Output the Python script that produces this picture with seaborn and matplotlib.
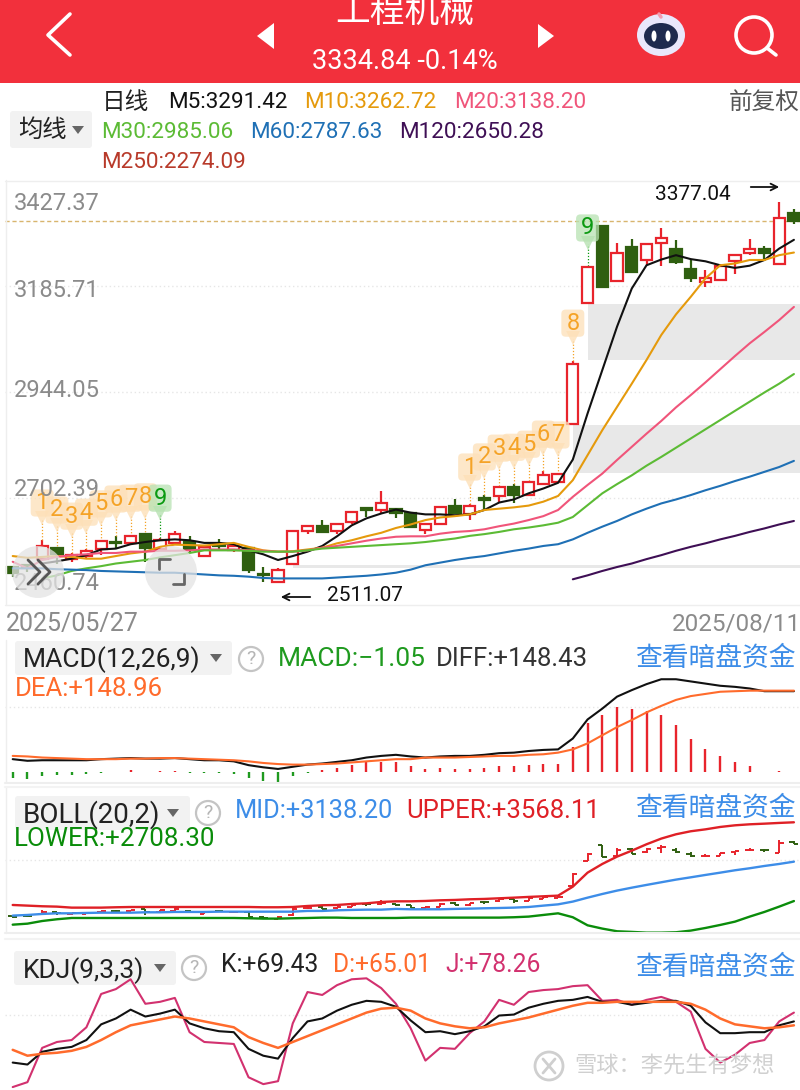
import numpy as np
import matplotlib
matplotlib.use("Agg")
import matplotlib.pyplot as plt
from matplotlib.patches import Circle, Ellipse, FancyBboxPatch, Polygon
import seaborn as sns

# daily candles, 2025/05/27 - 2025/08/11
opens = [2543, 2549, 2564, 2587, 2564, 2570, 2585, 2602, 2599, 2619, 2587, 2599, 2602, 2570, 2597, 2583, 2587, 2529,
         2511, 2552, 2627, 2638, 2627, 2648, 2678, 2675, 2677, 2667, 2629, 2644, 2682, 2667, 2701, 2706, 2726, 2710,
         2735, 2739, 2870, 3146, 3321, 3197, 3273, 3246, 3283, 3269, 3224, 3195, 3199, 3242, 3260, 3270, 3235, 3350]
closes = [2532, 2542, 2593, 2574, 2572, 2580, 2604, 2600, 2614, 2589, 2606, 2620, 2585, 2589, 2594, 2593, 2538, 2527,
          2538, 2625, 2637, 2624, 2643, 2669, 2675, 2690, 2669, 2637, 2643, 2680, 2669, 2684, 2697, 2726, 2709, 2738,
          2754, 2756, 3007, 3227, 3184, 3261, 3217, 3280, 3293, 3241, 3203, 3203, 3231, 3256, 3268, 3260, 3340, 3335]
highs = [2543, 2553, 2606, 2587, 2576, 2585, 2604, 2615, 2615, 2619, 2612, 2627, 2615, 2593, 2608, 2599, 2591, 2544,
         2542, 2627, 2639, 2653, 2644, 2671, 2678, 2718, 2678, 2669, 2644, 2682, 2700, 2688, 2710, 2729, 2734, 2741,
         2764, 2758, 3014, 3231, 3321, 3284, 3292, 3283, 3318, 3290, 3246, 3223, 3235, 3258, 3292, 3277, 3377, 3362]
lows = [2523, 2534, 2561, 2553, 2557, 2564, 2572, 2587, 2595, 2557, 2583, 2595, 2577, 2567, 2585, 2580, 2532, 2510,
        2511, 2549, 2620, 2624, 2621, 2644, 2658, 2669, 2656, 2634, 2621, 2643, 2665, 2653, 2676, 2694, 2690, 2709,
        2732, 2739, 2870, 3144, 3184, 3197, 3217, 3233, 3231, 3235, 3194, 3184, 3197, 3214, 3257, 3248, 3233, 3326]

m5 = [2553, 2558, 2564, 2572, 2585, 2587, 2597, 2602, 2606, 2608, 2606, 2600, 2600, 2597, 2583, 2574, 2561, 2570, 2580,
      2593, 2615, 2640, 2656, 2667, 2676, 2669, 2665, 2665, 2663, 2665, 2675, 2692, 2699, 2713, 2724, 2737, 2790, 2895,
      2994, 3093, 3180, 3233, 3246, 3256, 3247, 3242, 3233, 3227, 3232, 3245, 3271, 3291]
m10 = [2570, 2566, 2568, 2570, 2568, 2564, 2564, 2570, 2576, 2580, 2591, 2596, 2595, 2594, 2597, 2600, 2591, 2583, 2580,
       2581, 2585, 2589, 2599, 2606, 2615, 2623, 2634, 2642, 2652, 2658, 2661, 2665, 2675, 2678, 2681, 2685, 2694, 2707,
       2743, 2800, 2857, 2910, 2963, 3017, 3074, 3121, 3161, 3203, 3233, 3237, 3245, 3245, 3256, 3262]
m20 = [2557, 2542, 2561, 2568, 2572, 2574, 2577, 2577, 2580, 2580, 2582, 2582, 2583, 2585, 2585, 2585, 2583, 2582, 2580,
       2580, 2583, 2589, 2593, 2599, 2605, 2610, 2614, 2615, 2615, 2621, 2625, 2627, 2631, 2638, 2644, 2652, 2661, 2675,
       2705, 2732, 2758, 2789, 2819, 2849, 2878, 2909, 2937, 2966, 2996, 3026, 3055, 3081, 3108, 3138]
m30 = [2519, 2526, 2536, 2542, 2547, 2553, 2557, 2561, 2567, 2572, 2577, 2583, 2583, 2583, 2582, 2580, 2580, 2580, 2583,
       2587, 2589, 2591, 2593, 2595, 2597, 2599, 2602, 2606, 2610, 2616, 2620, 2625, 2631, 2635, 2640, 2646, 2659, 2686,
       2713, 2734, 2754, 2776, 2796, 2817, 2838, 2859, 2880, 2901, 2922, 2943, 2963, 2985]
m60 = [2542, 2542, 2542, 2540, 2539, 2538, 2536, 2535, 2534, 2533, 2532, 2532, 2530, 2528, 2526, 2525, 2523, 2520, 2519,
       2519, 2519, 2519, 2521, 2523, 2525, 2528, 2532, 2539, 2549, 2555, 2561, 2566, 2570, 2576, 2582, 2587, 2593, 2597,
       2608, 2623, 2637, 2650, 2665, 2678, 2690, 2699, 2709, 2720, 2730, 2741, 2751, 2762, 2773, 2787]
m120 = [2517, 2526, 2536, 2545, 2553, 2563, 2572, 2582, 2591, 2599, 2608, 2616, 2625, 2633, 2642, 2650]

gap_start = [39, 38, 19]
gap_low = [3017, 2760, 2543]
gap_high = [3144, 2868, 2549]

td_left_y = [2691, 2675, 2661, 2670, 2689, 2700, 2702, 2705, 2702]
td_right_y = [2773, 2796, 2816, 2818, 2825, 2848, 2846, 3101, 3318]

macd_hist = [-12, -14, -8, -7, -6, -5, -2, -1.5, 2.5, -1.5, 2, 2, -2, -2.5, -3, -4, -12, -17, -19, -8, -2, 2.5, 7, 13,
             17, 18, 17, 10, 4, 7, 5.5, 5.5, 7, 11, 10, 12, 14, 15, 45, 89, 105, 119, 115, 111, 104, 85, 61, 41, 28, 18,
             10, -1.5, 2, -1.5]
diff = [23, 20, 21, 21, 21, 21, 23, 24, 25, 24, 24, 25, 23, 21, 21, 19, 12, 8, 5, 9, 13, 15, 18, 21, 26, 29, 31, 28, 26,
        28, 29, 29, 31, 34, 35, 38, 40, 41, 61, 96, 116, 138, 150, 161, 170, 170, 166, 162, 158, 156, 153, 148, 148, 148]
dea = [29, 28, 26, 25, 24, 23, 23, 23, 24, 24, 25, 25, 24, 23, 22, 21, 19, 16, 14, 13, 13, 14, 15, 17, 19, 21, 23, 23,
       26, 26, 26, 27, 28, 29, 29, 31, 32, 35, 41, 52, 67, 82, 95, 109, 121, 132, 139, 143, 147, 148, 149, 149, 149, 149]

boll_upper = [2665, 2658, 2651, 2647, 2636, 2636, 2636, 2640, 2643, 2643, 2643, 2643, 2643, 2643, 2643, 2643, 2643, 2640,
              2640, 2643, 2654, 2662, 2665, 2676, 2683, 2698, 2705, 2705, 2709, 2716, 2720, 2727, 2731, 2738, 2745, 2753,
              2760, 2767, 2865, 3018, 3113, 3193, 3258, 3328, 3390, 3437, 3470, 3491, 3517, 3535, 3546, 3553, 3561, 3568]
boll_mid = [2549, 2556, 2567, 2574, 2574, 2578, 2581, 2581, 2581, 2585, 2585, 2589, 2589, 2589, 2592, 2592, 2592, 2592,
            2592, 2592, 2600, 2600, 2607, 2611, 2614, 2614, 2622, 2618, 2618, 2618, 2622, 2625, 2629, 2632, 2636, 2643,
            2658, 2672, 2702, 2745, 2785, 2822, 2854, 2884, 2913, 2942, 2967, 2993, 3018, 3044, 3066, 3091, 3113, 3138]
boll_lower = [2450, 2461, 2490, 2509, 2523, 2523, 2523, 2523, 2523, 2523, 2523, 2523, 2523, 2523, 2523, 2523, 2520, 2516,
              2516, 2520, 2523, 2527, 2527, 2523, 2523, 2523, 2523, 2527, 2527, 2527, 2527, 2527, 2527, 2527, 2531, 2538,
              2556, 2574, 2531, 2443, 2407, 2378, 2371, 2363, 2363, 2367, 2385, 2414, 2447, 2483, 2538, 2589, 2647, 2708]

kdj_k = [27, 25, 38, 41, 43, 50, 66, 72, 81, 74, 77, 81, 67, 62, 59, 58, 41, 34, 31, 52, 69, 72, 80, 86, 90, 89, 84, 70,
         58, 59, 56, 59, 64, 75, 76, 83, 87, 90, 91, 94, 89, 89, 86, 88, 90, 90, 85, 68, 57, 57, 58, 58, 65, 69]
kdj_d = [40, 34, 36, 37, 39, 43, 50, 58, 65, 68, 71, 74, 72, 69, 66, 63, 53, 47, 42, 48, 54, 60, 66, 72, 78, 82, 83, 80,
         72, 67, 64, 62, 63, 67, 70, 73, 77, 81, 85, 88, 88, 89, 89, 89, 89, 89, 87, 81, 72, 66, 64, 62, 63, 65]
kdj_j = [2, 7, 42, 48, 50, 63, 97, 102, 112, 87, 89, 93, 58, 48, 47, 46, 12, 5, 8, 67, 99, 96, 106, 112, 113, 103, 87,
         62, 29, 42, 41, 57, 69, 91, 86, 99, 101, 102, 105, 106, 90, 91, 86, 91, 94, 89, 79, 41, 27, 35, 47, 50, 69, 78]

axis_prices = [3427.37, 3185.71, 2944.05, 2702.39, 2460.74]
ma_labels = ["M5:3291.42", "M10:3262.72", "M20:3138.20", "M30:2985.06", "M60:2787.63", "M120:2650.28", "M250:2274.09"]

RED = "#e8242c"
GREEN = "#2f5f10"
W, H = 800, 1090
PITCH = 14.74
X0 = 12.7

sns.set_theme(style="white")
plt.rcParams['font.family'] = ['Roboto', 'Noto Sans CJK SC', 'DejaVu Sans']

fig = plt.figure(figsize=(W / 100, H / 100), dpi=100)
fig.patch.set_facecolor("white")
idx = np.arange(len(opens))

# grey label boxes sit behind the panels, the KDJ line runs over one
back = fig.add_axes([0, 0, 1, 1], zorder=-1)
back.set_xlim(0, W)
back.set_ylim(H, 0)
back.axis("off")


def panel(top, bottom):
    ax = fig.add_axes([5 / W, (H - bottom) / H, (W - 5) / W, (bottom - top) / H])
    ax.set_xlim((5 - X0) / PITCH, (W - X0) / PITCH)
    ax.set_xticks([])
    ax.set_yticks([])
    ax.patch.set_alpha(0)
    for s in ax.spines.values():
        s.set_visible(False)
    return ax


def line(ax, x, y, color, lw=1.5):
    sns.lineplot(x=x, y=y, ax=ax, color=color, linewidth=lw, errorbar=None, legend=False, zorder=4)
    ax.set_xlabel("")
    ax.set_ylabel("")


# main candle panel
ax = panel(180, 605)
ax.set_ylim(2458.4, 3427.37)
for p in axis_prices[1:4]:
    ax.axhline(p, color="#e6e6e6", lw=1, ls=(0, (1, 2)), zorder=0)
ax.axhline(3334.84, color="#d8b56e", lw=1, ls=(0, (3, 2)), zorder=1)
for s, lo, hi in zip(gap_start, gap_low, gap_high):
    ax.fill_between([s, 54], lo, hi, color="#e8e8e8", lw=0, zorder=1)

for i in idx:
    up = closes[i] >= opens[i]
    c = RED if up else GREEN
    ax.vlines(i, lows[i], highs[i], color=c, lw=1.6, zorder=2)
    ax.bar(i, abs(closes[i] - opens[i]) + 1, bottom=min(opens[i], closes[i]), width=0.76,
           facecolor="white" if up else GREEN, edgecolor=c, linewidth=1.6, zorder=3)

line(ax, idx[2:], m5, "#111111")
line(ax, idx, m10, "#e59a0c")
line(ax, idx, m20, "#f0557a")
line(ax, idx[2:], m30, "#5cbb35")
line(ax, idx, m60, "#1f70b5")
line(ax, idx[38:], m120, "#3f0f55")

# TD sequence tags, digits drawn after all the bubbles so none gets covered
for start, ys in ((2, td_left_y), (31, td_right_y)):
    for n, y in enumerate(ys, start=1):
        i = start + n - 1
        col_bg = "#b7e2b2" if n == 9 else "#fde0b8"
        col_fg = "#0c9a12" if n == 9 else "#f5a327"
        ax.vlines(i, highs[i], y - 36, color=col_fg, lw=0.9, ls=(0, (1, 1.5)), zorder=2)
        ax.plot([i], [y - 34], marker="v", ms=10, color=col_bg, alpha=0.8, zorder=5, mew=0)
        ax.add_patch(FancyBboxPatch((i - 0.78, y - 31), 1.56, 62, boxstyle="round,pad=0,rounding_size=0.3",
                                    mutation_aspect=33, fc=col_bg, ec="none", alpha=0.75, zorder=5))
        ax.text(i, y, str(n), color=col_fg, fontsize=17, ha="center", va="center", zorder=6)

# macd panel
ax2 = panel(660, 782)
ax2.set_ylim(-19, 205.4)
ax2.axhline(119.5, color="#e6e6e6", lw=1, ls=(0, (1, 2)), zorder=0)
hist = np.array(macd_hist)
ax2.vlines(idx, 0, hist, colors=[RED if v > 0 else "#1f9a1f" for v in hist], lw=1.7, zorder=2)
line(ax2, idx, diff, "#111111")
line(ax2, idx, dea, "#ff6b2c")

# boll panel
ax3 = panel(820, 933)
ax3.set_ylim(2359, 3593)
ax3.axhline(3157, color="#e6e6e6", lw=1, ls=(0, (1, 2)), zorder=0)
for i in idx:
    c = RED if closes[i] >= opens[i] else GREEN
    ax3.vlines(i, lows[i], highs[i], color=c, lw=1.4, zorder=2)
    ax3.hlines(opens[i], i - 0.3, i, color=c, lw=1.4, zorder=2)
    ax3.hlines(closes[i], i, i + 0.3, color=c, lw=1.4, zorder=2)
line(ax3, idx, boll_upper, "#df2026", 1.7)
line(ax3, idx, boll_mid, "#3d8de8", 1.7)
line(ax3, idx, boll_lower, "#0a8c0a", 1.7)

# kdj panel
ax4 = panel(945, 1090)
ax4.set_ylim(-1, 147)
ax4.axhline(75.5, color="#e6e6e6", lw=1, ls=(0, (1, 2)), zorder=0)
line(ax4, idx, kdj_j, "#d2316f")
line(ax4, idx, kdj_k, "#111111")
line(ax4, idx, kdj_d, "#ff6b2c", 1.8)

# overlay in picture pixels: app chrome and all labels
ui = fig.add_axes([0, 0, 1, 1], zorder=10)
ui.set_xlim(0, W)
ui.set_ylim(H, 0)
ui.axis("off")
ui.patch.set_alpha(0)


def put(x, y, s, color="#222222", size=17, ha="left", **kw):
    ui.text(x, y + 2.5, s, color=color, fontsize=size, ha=ha, va="center", **kw)


def box(x0, y0, x1, y1, fc="#f2f2f2"):
    back.add_patch(FancyBboxPatch((x0 + 3, y0 + 3), x1 - x0 - 6, y1 - y0 - 6, boxstyle="round,pad=3", fc=fc, ec="none"))


def caret(x, y, color="#666666"):
    ui.add_patch(Polygon([(x - 6, y - 4), (x + 6, y - 4), (x, y + 4)], fc=color, ec="none"))


def helpmark(x, y):
    ui.add_patch(Circle((x, y), 12, fc="white", ec="#c4c4c4", lw=1.6))
    put(x, y - 2.5, "?", color="#b5b5b5", size=14, ha="center")


# frame lines
ui.plot([5.5, 5.5], [180, 605], color="#eeeeee", lw=1)
ui.plot([5, 800], [180.5, 180.5], color="#eeeeee", lw=1)
ui.plot([5, 800], [605, 605], color="#eeeeee", lw=1)
ui.plot([5.5, 5.5], [640, 782], color="#eeeeee", lw=1)
ui.plot([5.5, 5.5], [787, 933], color="#eeeeee", lw=1)
ui.plot([5, 800], [783, 783], color="#eeeeee", lw=1.5)
ui.plot([5, 800], [787, 787], color="#f3f3f3", lw=1.5)
ui.plot([5, 800], [933, 933], color="#eeeeee", lw=1.5)
ui.plot([5, 800], [939, 939], color="#f3f3f3", lw=1.5)

# header
ui.add_patch(plt.Rectangle((0, 0), W, 83, fc="#f2303c", ec="none"))
put(405, 10, "工程机械", color="white", size=25, ha="center")
put(405, 59, "3334.84 -0.14%", color="white", size=19.5, ha="center")
ui.plot([70, 48, 70], [14, 35, 55], color="white", lw=2.6)
ui.add_patch(Polygon([(274, 23), (274, 49), (257, 36)], fc="white", ec="none"))
ui.add_patch(Polygon([(538, 24), (538, 48), (554, 36)], fc="white", ec="none"))
ui.add_patch(Ellipse((661, 35), 48, 42, fc="#e9e7fb", ec="none"))
ui.add_patch(Ellipse((661, 36), 34, 26, fc="#1e2a4e", ec="none"))
ui.add_patch(Ellipse((654, 36), 5, 11, fc="white", ec="none"))
ui.add_patch(Ellipse((668, 36), 5, 11, fc="white", ec="none"))
ui.plot([659, 661], [14, 17], color="#f29bb0", lw=2.5)
ui.add_patch(Circle((754, 35), 18, fc="none", ec="white", lw=2.6))
ui.plot([767, 776], [48, 55], color="white", lw=2.6)

# moving average legend
put(102, 100, "日线", size=17)
put(168, 100, ma_labels[0], color="#111111", size=16.2)
put(304, 100, ma_labels[1], color="#e59a0c", size=16.2)
put(454, 100, ma_labels[2], color="#f0557a", size=16.2)
put(800, 100, "前复权", color="#555555", size=17, ha="right")
put(101, 130, ma_labels[3], color="#5cbb35", size=16.2)
put(250, 130, ma_labels[4], color="#1f70b5", size=16.2)
put(399, 130, ma_labels[5], color="#3f0f55", size=16.2)
put(101, 160, ma_labels[6], color="#b83a2a", size=16.2)
box(10, 111, 92, 148)
put(18, 128, "均线", size=17.5)
caret(78, 130)

# price axis labels and dates
for p, y_px in zip(axis_prices, [201, 288, 388, 487, 581]):
    put(14, y_px, f"{p:.2f}", color="#8b8b8b", size=17, zorder=-1)
put(6, 621, "2025/05/27", color="#8b8b8b", size=18)
put(801, 621, "2025/08/11", color="#8b8b8b", size=17.5, ha="right")

# high/low callouts
put(327, 593, "2511.07", color="#111111", size=15)
ui.annotate("", xy=(278, 597), xytext=(313, 597), arrowprops=dict(arrowstyle="->", color="#111111", lw=1.3))
put(655, 192, "3377.04", color="#111111", size=15)
ui.annotate("", xy=(782, 187), xytext=(748, 187), arrowprops=dict(arrowstyle="->", color="#111111", lw=1.3))

# floating buttons over the chart
ui.add_patch(Circle((38, 572), 26, fc="#e4e4e4", ec="none", alpha=0.75))
ui.plot([28, 40, 28], [560, 572, 584], color="#555555", lw=2)
ui.plot([38, 50, 38], [560, 572, 584], color="#555555", lw=2)
ui.add_patch(Circle((171, 572), 26, fc="#e4e4e4", ec="none", alpha=0.75))
ui.plot([159, 159, 170], [569, 559, 559], color="#666666", lw=2)
ui.plot([184, 184, 173], [574, 584, 584], color="#666666", lw=2)

# macd header
box(15, 641, 232, 675)
put(23, 657, "MACD(12,26,9)", size=19)
caret(216, 658)
helpmark(251, 659)
put(278, 657, "MACD:−1.05", color="#1f9a1f", size=19)
put(436, 657, "DIFF:+148.43", color="#333333", size=18.5)
put(796, 656, "查看暗盘资金", color="#3d8de8", size=19.3, ha="right")
put(15, 686, "DEA:+148.96", color="#ff6b2c", size=18.5)

# boll header
box(15, 796, 190, 830)
put(23, 812, "BOLL(20,2)", size=20)
caret(173, 813)
helpmark(208, 813)
put(235, 808, "MID:+3138.20", color="#3d8de8", size=18.3)
put(406, 808, "UPPER:+3568.11", color="#df2026", size=18.5)
put(796, 806, "查看暗盘资金", color="#3d8de8", size=19.3, ha="right")
put(14, 836, "LOWER:+2708.30", color="#0a8c0a", size=18.7)

# kdj header
box(14, 951, 176, 985)
put(23, 968, "KDJ(9,3,3)", size=19)
caret(160, 968)
helpmark(194, 968)
put(221, 963, "K:+69.43", color="#222222", size=17.7)
put(333, 963, "D:+65.01", color="#ff6b2c", size=17.7)
put(445, 963, "J:+78.26", color="#d2316f", size=17.7)
put(796, 965, "查看暗盘资金", color="#3d8de8", size=19.3, ha="right")

# watermark
ui.add_patch(Circle((549, 1066), 14, fc="none", ec="#cfcfcf", lw=2))
ui.plot([543, 555], [1059, 1073], color="#cfcfcf", lw=2)
ui.plot([555, 543], [1059, 1073], color="#cfcfcf", lw=2)
put(574, 1064, "雪球：李先生有梦想", color="#d0d0d0", size=16)

fig.savefig("out.png", dpi=100)
